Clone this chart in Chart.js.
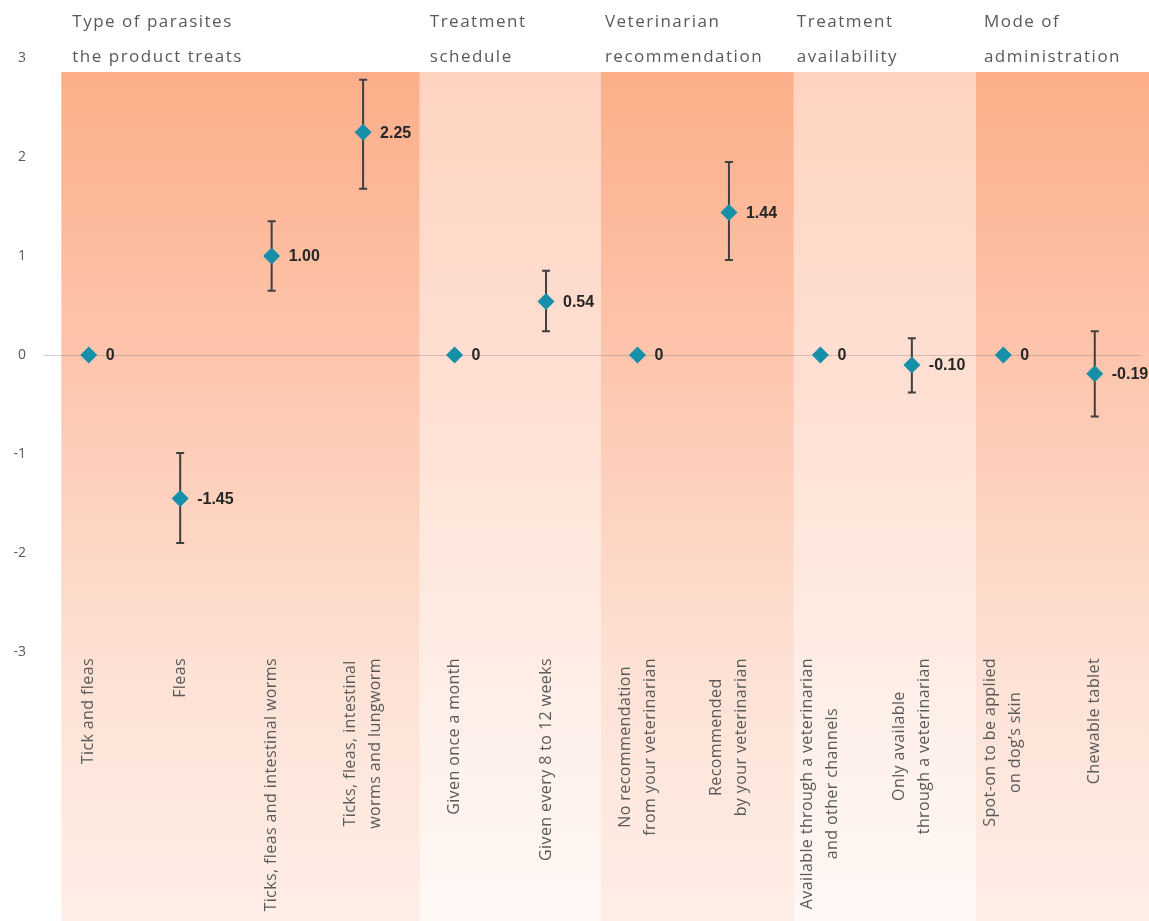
<!DOCTYPE html>
<html lang="en">
<head>
  <meta charset="UTF-8" />
  <title>Relative importance of product attributes</title>
  <script src="https://cdn.jsdelivr.net/npm/chart.js"></script>
  <style>
    html, body { margin: 0; padding: 0; background: #fff; }
    #wrap { width: 1149px; height: 921px; position: relative; }
  </style>
</head>
<body>
  <div id="wrap"><canvas id="chart"></canvas></div>

  <script>
    // categories (multi-line ones as arrays)
    const categories = [
      'Tick and fleas',
      'Fleas',
      'Ticks, fleas and intestinal worms',
      ['Ticks, fleas, intestinal', 'worms and lungworm'],
      'Given once a month',
      'Given every 8 to 12 weeks',
      ['No recommendation', 'from your veterinarian'],
      ['Recommended', 'by your veterinarian'],
      ['Available through a veterinarian', 'and other channels'],
      ['Only available', 'through a veterinarian'],
      ['Spot-on to be applied', 'on dog’s skin'],
      'Chewable tablet'
    ];
    const values   = [0, -1.45, 1.00, 2.25, 0, 0.54, 0, 1.44, 0, -0.10, 0, -0.19];
    const errLow   = [null, -1.90, 0.65, 1.68, null, 0.24, null, 0.96, null, -0.38, null, -0.62];
    const errHigh  = [null, -0.99, 1.35, 2.78, null, 0.85, null, 1.95, null, 0.17, null, 0.24];
    const groupNames = [
      ['Type of parasites', 'the product treats'],
      ['Treatment', 'schedule'],
      ['Veterinarian', 'recommendation'],
      ['Treatment', 'availability'],
      ['Mode of', 'administration']
    ];
    const yTicks = [-3, -2, -1, 0, 1, 2, 3];

    // band edges, in category units (last one runs to the canvas edge)
    const bandEdges = [-0.3, 3.62, 5.6, 7.71, 9.7];
    const headerOffset = [11, 10, 4, 3, 8];

    const TEAL = '#168fa8';
    const GREY = '#595959';

    const bandsPlugin = {
      id: 'bands',
      beforeDraw(chart) {
        const { ctx, scales: { x, y } } = chart;
        const top = y.getPixelForValue(3) + 14;
        const bottom = chart.height;
        ctx.save();
        bandEdges.forEach((e, i) => {
          const left = x.getPixelForValue(e);
          const right = i < bandEdges.length - 1 ? x.getPixelForValue(bandEdges[i + 1]) : chart.width;
          const g = ctx.createLinearGradient(0, top, 0, bottom);
          if (i % 2 === 0) {
            g.addColorStop(0, '#fcae89');
            g.addColorStop(0.35, '#fdc6ae');
            g.addColorStop(0.7, '#fde1d4');
            g.addColorStop(1, '#feeee7');
          } else {
            g.addColorStop(0, '#fed3c0');
            g.addColorStop(0.4, '#fee1d4');
            g.addColorStop(0.75, '#feefe8');
            g.addColorStop(1, '#fff8f5');
          }
          ctx.fillStyle = g;
          ctx.fillRect(left, top, right - left, bottom - top);
        });
        ctx.restore();
      },
      beforeDatasetsDraw(chart) {
        const { ctx, scales: { x, y } } = chart;
        ctx.save();
        ctx.strokeStyle = '#3f3f3f';
        ctx.lineWidth = 2;
        values.forEach((v, i) => {
          if (errLow[i] === null) return;
          const px = x.getPixelForValue(i);
          const y1 = y.getPixelForValue(errLow[i]);
          const y2 = y.getPixelForValue(errHigh[i]);
          ctx.beginPath();
          ctx.moveTo(px, y1); ctx.lineTo(px, y2);
          ctx.moveTo(px - 4, y1); ctx.lineTo(px + 4, y1);
          ctx.moveTo(px - 4, y2); ctx.lineTo(px + 4, y2);
          ctx.stroke();
        });
        ctx.restore();
      },
      afterDraw(chart) {
        const { ctx, scales: { x, y } } = chart;
        ctx.save();

        // value labels
        ctx.font = 'bold 16px "Liberation Sans", Arial, sans-serif';
        ctx.fillStyle = '#262626';
        ctx.textAlign = 'left';
        ctx.textBaseline = 'middle';
        values.forEach((v, i) => {
          const txt = v === 0 ? '0' : v.toFixed(2);
          ctx.fillText(txt, x.getPixelForValue(i) + 17, y.getPixelForValue(v) + 1);
        });

        // group headers
        ctx.font = '17px "Open Sans", sans-serif';
        ctx.letterSpacing = '1.5px';
        ctx.fillStyle = GREY;
        ctx.textBaseline = 'alphabetic';
        groupNames.forEach((lines, i) => {
          const hx = x.getPixelForValue(bandEdges[i]) + headerOffset[i];
          ctx.fillText(lines[0], hx, 27);
          ctx.fillText(lines[1], hx, 62);
        });

        // rotated category labels
        ctx.font = '16px "Open Sans", sans-serif';
        ctx.letterSpacing = '0.4px';
        ctx.textAlign = 'center';
        ctx.textBaseline = 'middle';
        const top = y.getPixelForValue(-3) + 6;
        const lineH = 25;
        categories.forEach((lab, i) => {
          const lines = Array.isArray(lab) ? lab : [lab];
          const w = Math.max(...lines.map(l => ctx.measureText(l).width));
          ctx.save();
          ctx.translate(x.getPixelForValue(i), top);
          ctx.rotate(-Math.PI / 2);
          lines.forEach((l, j) => {
            ctx.fillText(l, -w / 2, (j - (lines.length - 1) / 2) * lineH);
          });
          ctx.restore();
        });
        ctx.restore();
      }
    };

    new Chart(document.getElementById('chart'), {
      type: 'line',
      data: {
        labels: categories,
        datasets: [{
          data: values,
          showLine: false,
          pointStyle: 'rectRot',
          pointRadius: 8.5,
          pointBackgroundColor: TEAL,
          pointBorderWidth: 0,
          clip: false
        }]
      },
      options: {
        responsive: true,
        maintainAspectRatio: false,
        animation: false,
        layout: { padding: { top: 58, right: 8, left: 0, bottom: 0 } },
        plugins: { legend: { display: false }, tooltip: { enabled: false } },
        scales: {
          x: {
            offset: true,
            grid: { display: false },
            border: { display: false },
            ticks: { display: false },
            afterFit: s => { s.height = 269; }
          },
          y: {
            min: -3,
            max: 3,
            afterBuildTicks: s => { s.ticks = yTicks.map(v => ({ value: v })); },
            grid: {
              drawTicks: false,
              color: c => c.tick && c.tick.value === 0 ? 'rgba(110,110,110,0.3)' : 'transparent'
            },
            border: { display: false },
            ticks: {
              padding: 17,
              color: GREY,
              font: { family: '"Open Sans", sans-serif', size: 14 }
            },
            afterFit: s => { s.width = 43; }
          }
        }
      },
      plugins: [bandsPlugin]
    });
  </script>
</body>
</html>
